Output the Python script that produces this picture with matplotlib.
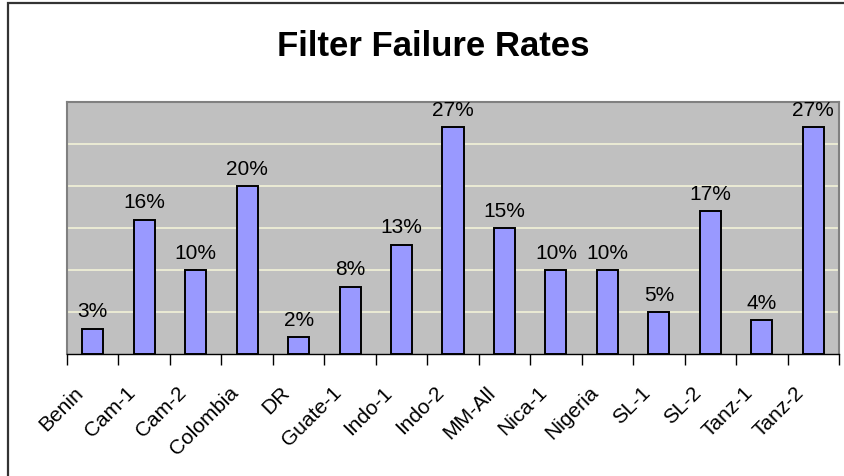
import matplotlib

matplotlib.use("Agg")
import matplotlib.pyplot as plt
import matplotlib.transforms as mtransforms
import numpy as np
from matplotlib.patches import Rectangle

plt.rcParams["font.family"] = ["Liberation Sans", "DejaVu Sans"]

sites = ["Benin", "Cam-1", "Cam-2", "Colombia", "DR", "Guate-1", "Indo-1",
         "Indo-2", "MM-All", "Nica-1", "Nigeria", "SL-1", "SL-2", "Tanz-1", "Tanz-2"]
failure_pct = [3, 16, 10, 20, 2, 8, 13, 27, 15, 10, 10, 5, 17, 4, 27]
y_max = 30
grid_step = 5

W, H = 844, 477
fig = plt.figure(figsize=(W / 100, H / 100), dpi=100)

# outer chart frame (left and top edges visible, rest runs off the image)
fig.patches.append(Rectangle((8 / W, -0.1), 1.2, (H - 4) / H + 0.1,
                             transform=fig.transFigure, fill=False,
                             edgecolor="#333333", linewidth=1.6))

ax = fig.add_axes([67 / W, 1 - 355 / H, (839 - 67) / W, (355 - 103) / H])
ax.set_facecolor("#C0C0C0")

x = np.arange(len(sites))
ax.bar(x, failure_pct, width=0.41, color="#9999FF", edgecolor="black",
       linewidth=1.4, zorder=3)

for xi, v in zip(x, failure_pct):
    ax.annotate(f"{v}%", (xi, v), xytext=(0, 6), textcoords="offset points",
                ha="center", va="bottom", fontsize=15, zorder=4,
                annotation_clip=False)

ax.set_xlim(-0.5, len(sites) - 0.5)
ax.set_ylim(0, y_max)
ax.set_yticks(np.arange(grid_step, y_max, grid_step))
ax.yaxis.grid(True, color="#F2F2D8", linewidth=1.2, zorder=1)
ax.tick_params(axis="y", left=False, labelleft=False)

ax.set_xticks(np.arange(-0.5, len(sites)), labels=[""] * (len(sites) + 1))
ax.tick_params(axis="x", which="major", length=8, width=1, color="black")
ax.set_xticks(x, labels=sites, minor=True)
ax.tick_params(axis="x", which="minor", length=0, pad=25, labelsize=15)
shift = mtransforms.ScaledTranslation(-12 / 100, 0, fig.dpi_scale_trans)
for lbl in ax.get_xticklabels(minor=True):
    lbl.set_rotation(45)
    lbl.set_ha("right")
    lbl.set_va("center")
    lbl.set_rotation_mode("anchor")
    lbl.set_transform(lbl.get_transform() + shift)

for side in ["top", "right", "left"]:
    ax.spines[side].set_color("#808080")
    ax.spines[side].set_linewidth(1.5)
ax.spines["bottom"].set_color("black")
ax.spines["bottom"].set_linewidth(1)

fig.text(433 / W, 1 - 46 / H, "Filter Failure Rates", ha="center", va="center",
         fontsize=25, fontweight="bold")

fig.savefig("out.png", dpi=100)
